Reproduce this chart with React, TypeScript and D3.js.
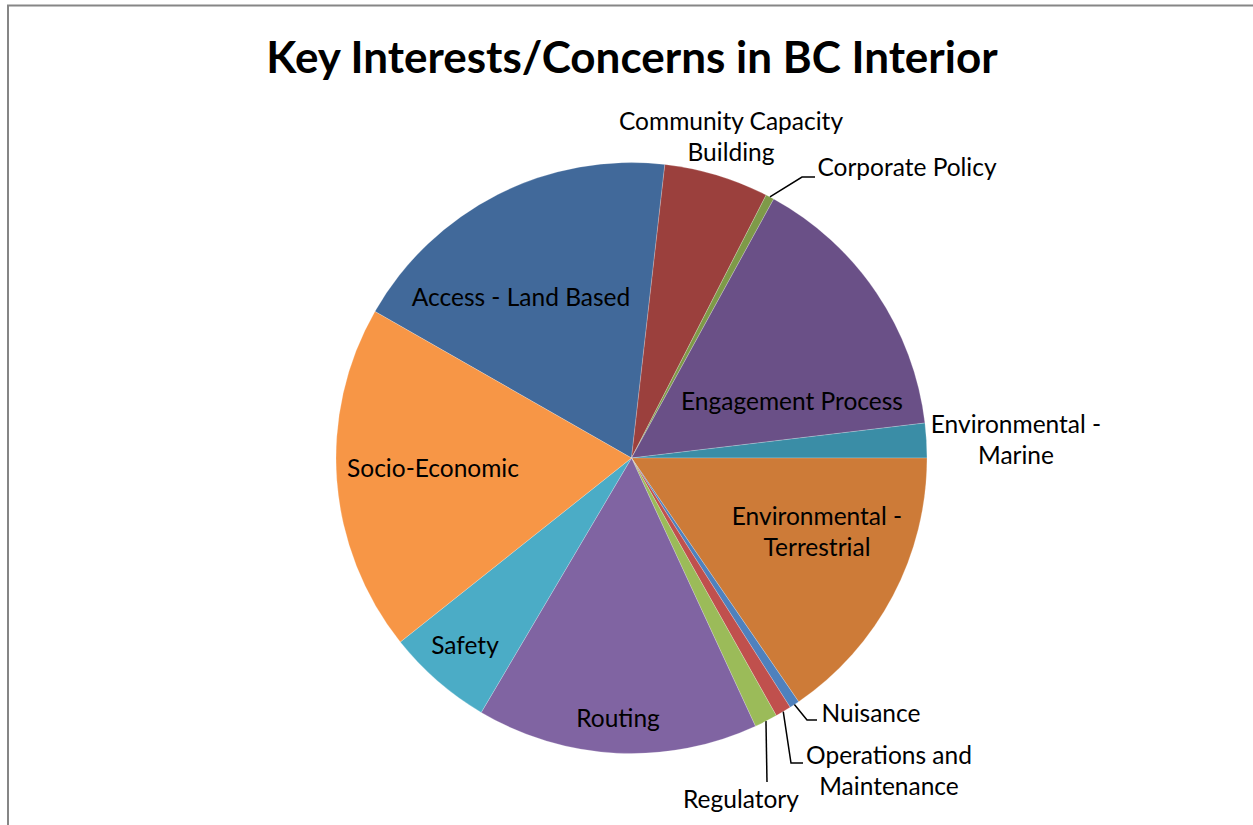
import React from 'react';
import * as d3 from 'd3';

const categories = [
  'Access - Land Based',
  'Community Capacity Building',
  'Corporate Policy',
  'Engagement Process',
  'Environmental - Marine',
  'Environmental - Terrestrial',
  'Nuisance',
  'Operations and Maintenance',
  'Regulatory',
  'Routing',
  'Safety',
  'Socio-Economic',
];
const values = [18.54, 5.73, 0.46, 15.12, 1.89, 15.43, 0.55, 0.87, 1.26, 15.38, 5.81, 18.96];
const colors = ['#41699A', '#9B403D', '#7E9A48', '#6A5087', '#3A8DA6', '#CD7B38', '#4F81BD', '#C0504D', '#9BBB59', '#8064A2', '#4BACC6', '#F79646'];
const labelLines = [
  ['Access - Land Based'],
  ['Community Capacity', 'Building'],
  ['Corporate Policy'],
  ['Engagement Process'],
  ['Environmental -', 'Marine'],
  ['Environmental -', 'Terrestrial'],
  ['Nuisance'],
  ['Operations and', 'Maintenance'],
  ['Regulatory'],
  ['Routing'],
  ['Safety'],
  ['Socio-Economic'],
];
const title = 'Key Interests/Concerns in BC Interior';

// layout
const W = 1253, H = 825;
const cx = 631.5, cy = 458, R = 295.5;
const startDeg = -60.26;
const labelPos: [number, number][] = [
  [521, 297], [731, 121], [907, 167], [792, 401], [1016, 424], [817, 516],
  [871, 713], [889, 755], [741, 799], [618, 718], [465, 645], [433, 468],
];
const lineGap = 31.5;
// leader elbows: [elbowX, elbowY, endX] or null
const leaders: ([number, number, number] | null)[] = [
  null, null, [802, 177, 815], null, null, null,
  [807, 720, 817], [791, 763, 803], [767, 782, 767], null, null, null,
];

const FONT = 'Lato, "Open Sans", sans-serif';

export default function App() {
  const pie = d3.pie<number>().sort(null).value(d => d)
    .startAngle(startDeg * Math.PI / 180)
    .endAngle(startDeg * Math.PI / 180 + 2 * Math.PI);
  const arcs = pie(values);
  const arc = d3.arc<d3.PieArcDatum<number>>().innerRadius(0).outerRadius(R);

  return (
    <svg width={W} height={H} style={{ position: 'absolute', left: 0, top: 0, display: 'block', background: '#fff' }}>
      <rect x={0} y={0} width={W} height={H} fill="#fff" />
      <path d={`M8,${H} L8,5.5 L${W},5.5`} fill="none" stroke="#868686" strokeWidth={2} />
      <text x={632} y={73} textAnchor="middle" fontFamily={FONT} fontWeight="bold" fontSize={44} fill="#000">{title}</text>
      <g transform={`translate(${cx},${cy})`}>
        {arcs.map((a, i) => (
          <path key={categories[i]} d={arc(a) || ''} fill={colors[i]} stroke="#ffffff" strokeOpacity={0.35} strokeWidth={0.6} />
        ))}
      </g>
      {arcs.map((a, i) => {
        const l = leaders[i];
        if (!l) return null;
        const mid = (a.startAngle + a.endAngle) / 2;
        const sx = cx + R * Math.sin(mid);
        const sy = cy - R * Math.cos(mid);
        return (
          <polyline key={'l' + i} points={`${sx},${sy} ${l[0]},${l[1]} ${l[2]},${l[1]}`} fill="none" stroke="#000" strokeWidth={1.5} />
        );
      })}
      {labelLines.map((lines, i) => (
        <text key={'t' + i} textAnchor="middle" fontFamily={FONT} fontSize={24.5} fill="#000">
          {lines.map((ln, j) => (
            <tspan key={j} x={labelPos[i][0]} y={labelPos[i][1] + j * lineGap + 8.5}>{ln}</tspan>
          ))}
        </text>
      ))}
    </svg>
  );
}
